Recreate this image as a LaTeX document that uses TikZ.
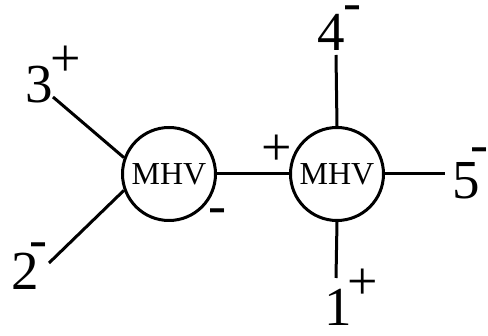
\documentclass[tikz,border=0pt]{standalone}
\usepackage{fontspec}
\setmainfont{Liberation Serif}
\usetikzlibrary{positioning}

\begin{document}
\begin{tikzpicture}[
    x=1pt, y=-1pt,
    mhv/.style={circle, draw, line width=3pt, minimum size=93pt, inner sep=0pt, font=\fontsize{32}{32}\selectfont},
    leg/.style={line width=3pt},
    mom/.style={inner sep=0pt, font=\fontsize{55}{55}\selectfont},
    hel/.style={inner sep=0pt, font=\fontsize{54}{54}\selectfont}
]
    \useasboundingbox (0,0) rectangle (488,336);

    % Vertices
    \node[mhv] (lv) at (169,174) {MHV};
    \node[mhv] (rv) at (337,174) {MHV};

    % Leg ends
    \coordinate (e3) at (53,97);
    \coordinate (e2) at (49,263);
    \coordinate (e4) at (336,55);
    \coordinate (e5) at (445,174);
    \coordinate (e1) at (336,278);

    % Momenta
    \node[mom] (m3) at (39,85) {3};
    \node[mom] (m2) at (25,271) {2};
    \node[mom] (m4) at (331,32) {4};
    \node[mom] (m5) at (466,181) {5};
    \node[mom] (m1) at (338,307) {1};

    % Helicities
    \node[hel] (h3) at (66,61) {+};
    \node[hel] (h2) at (38,250) {-};
    \node[hel] (h4) at (352,13) {-};
    \node[hel] (h5) at (479,155) {-};
    \node[hel] (h1) at (363,284) {+};
    \node[hel] (hl) at (217,216) {-};
    \node[hel] (hr) at (277,150) {+};

    % Lines
    \draw[leg] (lv.160) -- (e3);
    \draw[leg] (lv.200) -- (e2);
    \draw[leg] (lv.east) -- (rv.west);
    \draw[leg] (rv.north) -- (e4);
    \draw[leg] (rv.east) -- (e5);
    \draw[leg] (rv.south) -- (e1);
\end{tikzpicture}
\end{document}
